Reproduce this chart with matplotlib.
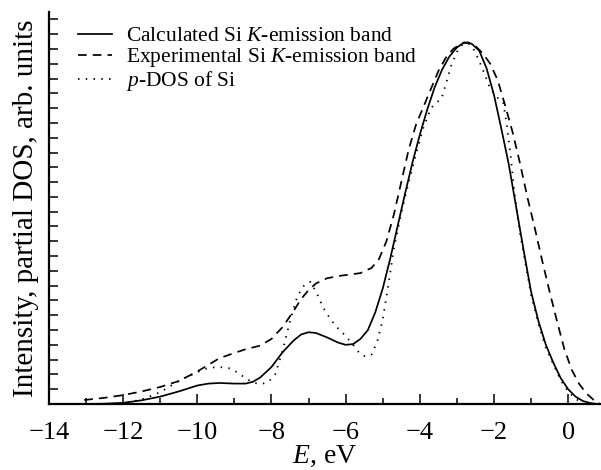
import matplotlib
matplotlib.use("Agg")
import matplotlib.pyplot as plt

plt.rcParams['font.family'] = ['Liberation Serif', 'DejaVu Serif']
plt.rcParams['mathtext.fontset'] = 'custom'
plt.rcParams['mathtext.rm'] = 'Liberation Serif'
plt.rcParams['mathtext.it'] = 'Liberation Serif:italic'

# Calculated Si K-emission band
calc_e = [-13.6, -13.0, -12.5, -12.0, -11.5, -11.0, -10.5, -10.0, -9.7, -9.4,
          -9.0, -8.7, -8.5, -8.3, -8.0, -7.7, -7.4, -7.2, -7.0, -6.8,
          -6.5, -6.2, -6.0, -5.8, -5.6, -5.4, -5.2, -5.0, -4.8, -4.6,
          -4.4, -4.2, -4.0, -3.8, -3.6, -3.4, -3.2, -3.0, -2.8, -2.6,
          -2.4, -2.2, -2.0, -1.8, -1.6, -1.4, -1.2, -1.0, -0.8, -0.6,
          -0.4, -0.2, 0.0, 0.2, 0.4, 0.6, 0.8]
calc_i = [0.0, 0.0, 0.02, 0.08, 0.25, 0.5, 0.85, 1.25, 1.38, 1.42,
          1.38, 1.38, 1.5, 1.8, 2.5, 3.5, 4.3, 4.7, 4.85, 4.8,
          4.5, 4.15, 4.0, 4.05, 4.4, 5.0, 6.2, 7.8, 9.8, 12.0,
          14.2, 16.3, 18.2, 19.9, 21.4, 22.6, 23.5, 24.1, 24.45, 24.35,
          23.9, 22.7, 20.9, 18.6, 16.2, 13.3, 10.4, 7.6, 5.6, 4.0,
          2.8, 1.75, 1.0, 0.5, 0.2, 0.06, 0.0]

# Experimental Si K-emission band
exp_e = [-13.05, -12.5, -12.0, -11.5, -11.0, -10.5, -10.0, -9.7, -9.4, -9.0,
         -8.7, -8.3, -8.0, -7.7, -7.4, -7.2, -7.0, -6.8, -6.5, -6.2,
         -5.9, -5.6, -5.3, -5.1, -4.9, -4.7, -4.5, -4.3, -4.1, -3.9,
         -3.7, -3.5, -3.3, -3.1, -2.9, -2.7, -2.5, -2.3, -2.1, -1.9,
         -1.7, -1.5, -1.3, -1.1, -0.9, -0.7, -0.5, -0.3, -0.1, 0.1,
         0.3, 0.5, 0.7, 0.85]
exp_i = [0.27, 0.42, 0.6, 0.85, 1.15, 1.55, 2.2, 2.65, 3.1, 3.45,
         3.7, 3.95, 4.4, 5.2, 6.3, 7.1, 7.7, 8.15, 8.5, 8.65,
         8.75, 8.85, 9.2, 9.8, 11.0, 12.8, 15.0, 17.2, 18.9, 20.1,
         21.3, 22.5, 23.4, 24.0, 24.35, 24.45, 24.2, 23.7, 23.0, 21.9,
         20.2, 18.4, 16.3, 14.0, 11.9, 9.7, 7.6, 5.6, 3.7, 2.3,
         1.35, 0.7, 0.25, 0.05]

# p-DOS of Si
pdos_e = [-12.3, -12.0, -11.5, -11.0, -10.7, -10.4, -10.0, -9.7, -9.4, -9.1,
          -8.9, -8.7, -8.5, -8.3, -8.1, -7.9, -7.7, -7.5, -7.3, -7.1,
          -6.95, -6.8, -6.6, -6.4, -6.2, -6.0, -5.8, -5.6, -5.45, -5.3,
          -5.15, -5.0, -4.85, -4.7, -4.5, -4.3, -4.1, -3.9, -3.7, -3.55,
          -3.42, -3.3, -3.15, -3.0, -2.85, -2.7, -2.55, -2.4, -2.25, -2.1,
          -1.9, -1.75, -1.65, -1.55, -1.45, -1.3, -1.15, -1.0, -0.8, -0.6,
          -0.4, -0.2, 0.0, 0.2, 0.4]
pdos_i = [0.0, 0.05, 0.3, 0.8, 1.25, 1.7, 2.15, 2.45, 2.5, 2.4,
          2.1, 1.75, 1.45, 1.35, 1.45, 2.0, 3.6, 5.6, 7.3, 8.1,
          8.25, 7.6, 6.5, 5.7, 5.1, 4.6, 4.0, 3.35, 3.2, 3.35,
          4.2, 5.7, 8.0, 10.5, 12.9, 15.0, 16.9, 18.7, 20.0, 20.4,
          20.6, 21.6, 22.9, 23.8, 24.3, 24.4, 24.0, 23.2, 22.3, 21.3,
          20.7, 20.4, 18.8, 16.8, 14.3, 11.6, 9.5, 7.4, 5.4, 3.8,
          2.7, 1.6, 0.85, 0.35, 0.05]

x_ticks = [-14, -12, -10, -8, -6, -4, -2, 0]
x_minor = [-13, -11, -9, -7, -5, -3, -1]
y_ticks = list(range(1, 27))

fig = plt.figure(figsize=(6.01, 4.70), dpi=100)
ax = fig.add_axes([49 / 601, 66 / 470, 551 / 601, 392 / 470])

ax.plot(calc_e, calc_i, color='black', lw=1.25, linestyle='-',
        label='Calculated Si $K$-emission band')
ax.plot(exp_e, exp_i, color='black', lw=1.25, linestyle=(0, (5, 3.5)),
        label='Experimental Si $K$-emission band')
ax.plot(pdos_e, pdos_i, color='black', lw=1.3, linestyle=(0, (0.8, 3.5)),
        label='$p$-DOS of Si')

ax.set_xlim(-14, 0.86)
ax.set_ylim(0, 26.5)
ax.set_xticks(x_ticks)
ax.set_xticks(x_minor, minor=True)
ax.set_xticklabels([f'\u2212{abs(v)}' if v < 0 else str(v) for v in x_ticks])
ax.set_yticks(y_ticks)
ax.set_yticklabels([])

for side in ('top', 'right'):
    ax.spines[side].set_visible(False)
for side in ('left', 'bottom'):
    ax.spines[side].set_linewidth(1.6)

ax.tick_params(axis='x', which='major', direction='in', length=7, width=1.1,
               labelsize=19, pad=13)
ax.tick_params(axis='x', which='minor', direction='in', length=4.5, width=1.1)
ax.tick_params(axis='y', which='major', direction='in', length=6.5, width=1.1)

ax.set_xlabel('$E$, eV', fontsize=20, labelpad=0)
ax.set_ylabel('Intensity, partial DOS, arb. units', fontsize=21, labelpad=4)

ax.legend(loc='upper left', bbox_to_anchor=(78 / 601, 1 - 26 / 470),
          bbox_transform=fig.transFigure, frameon=False, fontsize=15.5,
          handlelength=1.6, handletextpad=0.65, labelspacing=0.0,
          borderpad=0, borderaxespad=0)

fig.savefig('out.png', dpi=100)
